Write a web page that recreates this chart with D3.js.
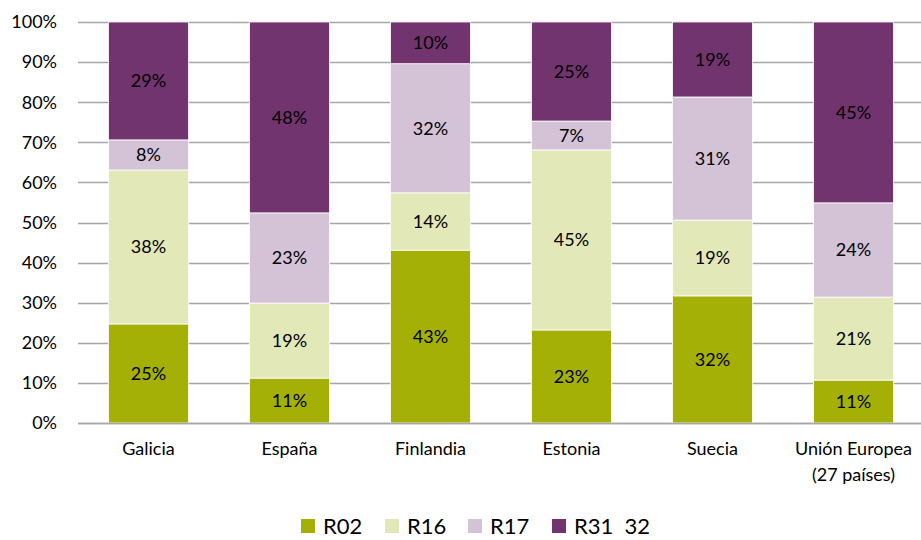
<!DOCTYPE html>
<html>
<head>
<meta charset="utf-8">
<script src="https://cdn.jsdelivr.net/npm/d3@7"></script>
<style>
  body { margin: 0; background: #fff; }
  svg { font-family: Lato, "Open Sans", sans-serif; }
</style>
</head>
<body>
<svg width="921" height="540"></svg>
<script>
// Chart data
const categories = ["Galicia", "España", "Finlandia", "Estonia", "Suecia", "Unión Europea\n(27 países)"];
const seriesNames = ["R02", "R16", "R17", "R31  32"];
const r02 = [24.7, 11.2, 43.1, 23.2, 31.7, 10.7];
const r16 = [38.4, 18.7, 14.3, 44.9, 18.9, 20.7];
const r17 = [7.5, 22.5, 32.2, 7.2, 30.7, 23.5];
const r3132 = [29.4, 47.6, 10.4, 24.7, 18.7, 45.1];
const yTicks = [0, 10, 20, 30, 40, 50, 60, 70, 80, 90, 100];
const colors = ["#a4b005", "#e3e8b9", "#d4c2d7", "#71346f"];

const svg = d3.select("svg"),
  width = +svg.attr("width"),
  height = +svg.attr("height"),
  margin = { top: 22, right: -3, bottom: 117, left: 78 };

// build the table for stacking
const table = categories.map((c, i) => ({
  cat: c, s0: r02[i], s1: r16[i], s2: r17[i], s3: r3132[i]
}));
const keys = ["s0", "s1", "s2", "s3"];
const stacked = d3.stack().keys(keys)(table);

const x = d3.scaleBand()
  .domain(categories)
  .range([margin.left, width - margin.right])
  .paddingInner(61 / 141)
  .paddingOuter(61 / 282);

const y = d3.scaleLinear().domain([0, 100]).range([height - margin.bottom, margin.top]);

// gridlines
svg.append("g")
  .selectAll("line")
  .data(yTicks)
  .join("line")
  .attr("x1", margin.left)
  .attr("x2", width)
  .attr("y1", d => Math.round(y(d)) + 0.5)
  .attr("y2", d => Math.round(y(d)) + 0.5)
  .attr("stroke", "#a6a6a6")
  .attr("stroke-width", 1.3);

// y tick labels
svg.append("g")
  .selectAll("text")
  .data(yTicks)
  .join("text")
  .attr("x", 57)
  .attr("y", d => y(d))
  .attr("dy", "0.35em")
  .attr("text-anchor", "end")
  .style("font-size", "18px")
  .attr("fill", "#000")
  .text(d => d + "%");

// bars
const layers = svg.append("g")
  .selectAll("g")
  .data(stacked)
  .join("g")
  .attr("fill", (d, i) => colors[i]);

layers.selectAll("rect")
  .data(d => d)
  .join("rect")
  .attr("x", d => x(d.data.cat))
  .attr("width", x.bandwidth())
  .attr("y", d => y(d[1]))
  .attr("height", d => y(d[0]) - y(d[1]))
  .attr("stroke", "#fff")
  .attr("stroke-width", 0.8);

// data labels
layers.selectAll("text")
  .data(d => d)
  .join("text")
  .attr("x", d => x(d.data.cat) + x.bandwidth() / 2)
  .attr("y", d => (y(d[0]) + y(d[1])) / 2)
  .attr("dy", "0.35em")
  .attr("text-anchor", "middle")
  .attr("fill", "#000")
  .style("font-size", "18px")
  .text(d => Math.round(d[1] - d[0]) + "%");

// baseline
svg.append("line")
  .attr("x1", margin.left)
  .attr("x2", width)
  .attr("y1", Math.round(y(0)) + 0.5)
  .attr("y2", Math.round(y(0)) + 0.5)
  .attr("stroke", "#a6a6a6")
  .attr("stroke-width", 1.5);

// category labels
svg.append("g")
  .selectAll("text")
  .data(categories)
  .join("text")
  .attr("x", d => x(d) + x.bandwidth() / 2)
  .attr("y", 455)
  .attr("text-anchor", "middle")
  .style("font-size", "18px")
  .attr("fill", "#000")
  .each(function (d) {
    d.split("\n").forEach((line, i) => {
      d3.select(this).append("tspan")
        .attr("x", x(d) + x.bandwidth() / 2)
        .attr("dy", i === 0 ? 0 : "1.45em")
        .text(line);
    });
  });

// legend
const legendX = [301, 385, 468, 552];
const legend = svg.append("g")
  .selectAll("g")
  .data(seriesNames)
  .join("g")
  .attr("transform", (d, i) => `translate(${legendX[i]},519)`);

legend.append("rect")
  .attr("width", 14)
  .attr("height", 14)
  .attr("fill", (d, i) => colors[i]);

legend.append("text")
  .attr("x", 22)
  .attr("y", 7)
  .attr("dy", "0.35em")
  .style("font-size", "22px")
  .style("white-space", "pre")
  .attr("xml:space", "preserve")
  .attr("fill", "#000")
  .text(d => d);
</script>
</body>
</html>
